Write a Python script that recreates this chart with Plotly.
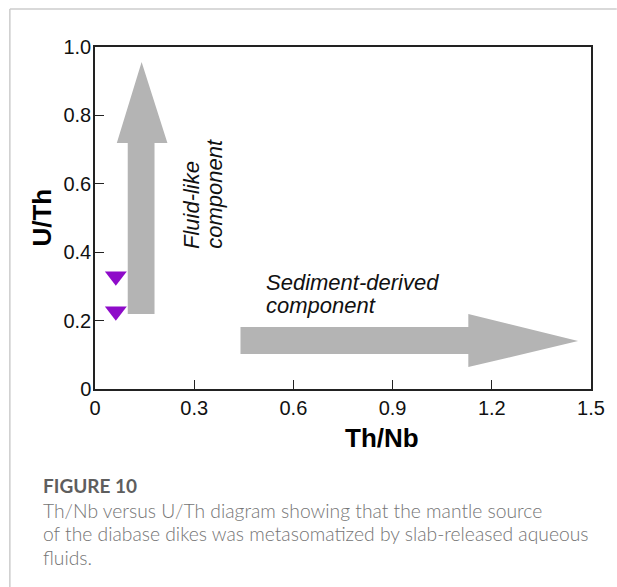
import plotly.graph_objects as go

# Data
th_nb = [0.063, 0.063]
u_th = [0.330, 0.227]

x_tickvals = [0, 0.3, 0.6, 0.9, 1.2, 1.5]
x_ticktext = ["0", "0.3", "0.6", "0.9", "1.2", "1.5"]
y_tickvals = [0, 0.2, 0.4, 0.6, 0.8, 1.0]
y_ticktext = ["0", "0.2", "0.4", "0.6", "0.8", "1.0"]

W, H = 617, 587
L, R, T, B = 95, 21, 47, 198

ARIAL = "Arial, Liberation Sans, sans-serif"
CAP_FONT = "Lato, Noto Sans, sans-serif"
GRAY_ARROW = "#b4b4b4"
AXIS_COLOR = "#222222"

fig = go.Figure()
fig.add_trace(go.Scatter(
    x=th_nb, y=u_th, mode="markers",
    marker=dict(symbol="triangle-down", size=19, color="#8e0bc9",
                line=dict(width=0)),
    showlegend=False, hoverinfo="skip"))


def poly(pts):
    return "M " + " L ".join(f"{x},{y}" for x, y in pts) + " Z"


# Fluid-like component arrow (vertical)
fluid_arrow = [(0.099, 0.219), (0.180, 0.219), (0.180, 0.719), (0.219, 0.719),
               (0.141, 0.956), (0.066, 0.719), (0.099, 0.719)]
# Sediment-derived component arrow (horizontal)
sed_arrow = [(0.440, 0.102), (0.440, 0.181), (1.129, 0.181), (1.129, 0.219),
             (1.461, 0.140), (1.129, 0.064), (1.129, 0.102)]

shapes = []
for pts in (fluid_arrow, sed_arrow):
    shapes.append(dict(type="path", xref="x", yref="y", path=poly(pts),
                       fillcolor=GRAY_ARROW, line=dict(width=0), layer="below"))


def px_x(p):
    return (p - L) / (W - L - R)


def px_y(p):
    return (H - B - p) / (H - T - B)


# card border (top and left)
shapes.append(dict(type="line", xref="paper", yref="paper",
                   x0=px_x(9), x1=px_x(W + 5), y0=px_y(9), y1=px_y(9),
                   line=dict(color="#cccccc", width=1.5)))
shapes.append(dict(type="line", xref="paper", yref="paper",
                   x0=px_x(9), x1=px_x(9), y0=px_y(9), y1=px_y(H + 5),
                   line=dict(color="#cccccc", width=1.5)))

annotations = []
# Rotated "Fluid-like component"
annotations.append(dict(text="<i>Fluid-like</i>", x=px_x(192), y=px_y(251),
                        xref="paper", yref="paper", xanchor="center", yanchor="bottom",
                        textangle=-90, showarrow=False,
                        font=dict(family=ARIAL, size=22, color="#111111")))
annotations.append(dict(text="<i>component</i>", x=px_x(215), y=px_y(251),
                        xref="paper", yref="paper", xanchor="center", yanchor="bottom",
                        textangle=-90, showarrow=False,
                        font=dict(family=ARIAL, size=22, color="#111111")))
# "Sediment-derived component"
annotations.append(dict(text="<i>Sediment-derived</i>", x=px_x(266), y=px_y(282),
                        xref="paper", yref="paper", xanchor="left", yanchor="middle",
                        showarrow=False,
                        font=dict(family=ARIAL, size=22, color="#111111")))
annotations.append(dict(text="<i>component</i>", x=px_x(266), y=px_y(305),
                        xref="paper", yref="paper", xanchor="left", yanchor="middle",
                        showarrow=False,
                        font=dict(family=ARIAL, size=22, color="#111111")))
# Axis titles
annotations.append(dict(text="<b>Th/Nb</b>", x=px_x(385), y=px_y(438),
                        xref="paper", yref="paper", xanchor="center", yanchor="middle",
                        showarrow=False,
                        font=dict(family=ARIAL, size=26, color="#000000")))
annotations.append(dict(text="<b>U/Th</b>", x=px_x(41), y=px_y(218),
                        xref="paper", yref="paper", xanchor="center", yanchor="middle",
                        textangle=-90, showarrow=False,
                        font=dict(family=ARIAL, size=26, color="#000000")))
# Caption
annotations.append(dict(text="<b>FIGURE 10</b>", x=px_x(40), y=px_y(485),
                        xref="paper", yref="paper", xanchor="left", yanchor="middle",
                        showarrow=False,
                        font=dict(family=CAP_FONT, size=19, color="#5e5e5e")))
caption_lines = [
    "Th/Nb versus U/Th diagram showing that the mantle source",
    "of the diabase dikes was metasomatized by slab-released aqueous",
    "fluids.",
]
for line, yc in zip(caption_lines, (510, 533, 557)):
    annotations.append(dict(text=line, x=px_x(40), y=px_y(yc),
                            xref="paper", yref="paper", xanchor="left", yanchor="middle",
                            showarrow=False,
                            font=dict(family=CAP_FONT, size=19.3, color="#757575",
                                      weight=300)))

axis_common = dict(showline=True, mirror=True, linecolor=AXIS_COLOR, linewidth=1.5,
                   ticks="inside", ticklen=9, tickwidth=1.3, tickcolor=AXIS_COLOR,
                   showgrid=False, zeroline=False,
                   tickfont=dict(family=ARIAL, size=20, color="#111111"))

fig.update_layout(
    width=W, height=H,
    margin=dict(l=L, r=R, t=T, b=B, pad=0),
    paper_bgcolor="white", plot_bgcolor="white",
    xaxis=dict(range=[0, 1.5], tickmode="array", tickvals=x_tickvals,
               ticktext=x_ticktext, **axis_common),
    yaxis=dict(range=[0, 1.0], tickmode="array", tickvals=y_tickvals,
               ticktext=y_ticktext, ticklabelstandoff=-2, **axis_common),
    shapes=shapes, annotations=annotations,
)

fig.write_html("out.html")
